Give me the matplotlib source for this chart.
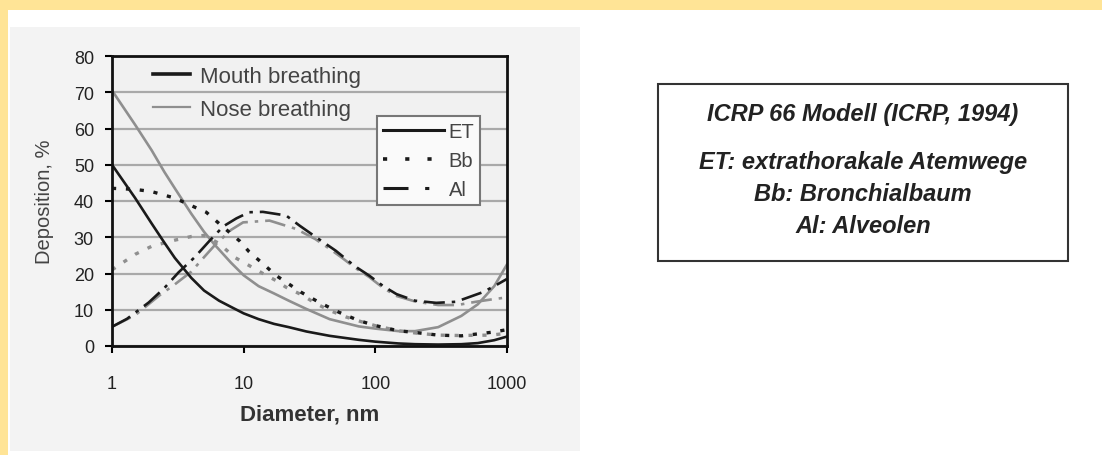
import matplotlib.pyplot as plt
from matplotlib.patches import Rectangle
from matplotlib.lines import Line2D
from matplotlib.ticker import NullLocator

plt.rcParams['font.family'] = ['Liberation Sans', 'DejaVu Sans']
plt.rcParams['lines.scale_dashes'] = False

# Werte (Durchmesser in nm, Deposition in %)
et_mouth_d = [1, 1.5, 2, 2.5, 3, 4, 5, 6.5, 8, 10, 13, 17, 22, 30, 45, 75, 100, 150, 200, 300, 450, 600, 800, 1000]
et_mouth = [50, 40.8, 33.8, 28.5, 24.3, 18.8, 15.3, 12.5, 10.8, 9.0, 7.4, 6.1, 5.2, 4.0, 2.8, 1.7, 1.2, 0.7, 0.5, 0.4, 0.5, 0.8, 1.6, 2.6]

et_nose_d = [1, 1.5, 2, 2.5, 3, 4, 5, 6, 8, 10, 13, 17, 22, 30, 45, 75, 100, 150, 200, 300, 450, 600, 800, 1000]
et_nose = [70.5, 61, 54, 48, 43.5, 36.5, 31.5, 28, 23, 19.5, 16.5, 14.5, 12.5, 10.2, 7.4, 5.4, 4.8, 4.1, 4.1, 5.2, 8.3, 11.5, 16.5, 22.5]

bb_mouth_d = [1, 1.5, 2, 3, 4.25, 5.2, 6.5, 8, 9.3, 11, 13.6, 17.7, 27.4, 37.6, 53, 75, 101, 150, 215, 300, 450, 770, 1000]
bb_mouth = [43.5, 43.2, 42.6, 40.8, 38.3, 36.9, 33.8, 31, 29, 26, 23.1, 19.4, 14.8, 12, 9.3, 7, 5.6, 4.2, 3.6, 3.0, 2.8, 3.8, 4.5]

bb_nose_d = [1, 1.5, 2, 3, 4, 5, 6.5, 8.5, 11, 14, 17.7, 21, 28, 35, 45, 60, 80, 100, 150, 200, 300, 430, 750, 1000]
bb_nose = [21, 25.3, 27.5, 29.2, 30.2, 30.5, 28.3, 24.5, 22.2, 20, 18, 16.2, 14, 11.8, 9.8, 8, 6.6, 5.6, 4.2, 3.6, 3.0, 2.9, 3.0, 3.5]

al_mouth_d = [1, 1.3, 1.9, 2.5, 3.2, 4.25, 5.5, 7, 8.8, 11, 14, 21, 26.6, 35.5, 50, 70, 90, 115, 145, 200, 290, 410, 650, 800, 1000]
al_mouth = [5.3, 7.5, 12, 16, 20.3, 24.5, 29, 33, 35.2, 36.9, 37, 36, 33.2, 30, 26.3, 22, 19.4, 16.5, 14.3, 12.5, 11.9, 12.2, 14.8, 16.5, 18.5]

al_nose_d = [1, 1.5, 2.3, 3, 4, 5, 6, 8, 9.9, 15.7, 25, 35, 45, 56, 70, 90, 115, 145, 200, 300, 420, 580, 780, 1000]
al_nose = [5.3, 8.5, 14, 17, 20.5, 24.5, 27.7, 32, 34.1, 34.6, 32.3, 29.5, 26.8, 24.3, 21.6, 19, 16, 13.8, 12.3, 11.3, 11.3, 12.2, 12.9, 13.4]

x_ticks = [1, 10, 100, 1000]
x_tick_labels = ['1', '10', '100', '1000']
y_ticks = [0, 10, 20, 30, 40, 50, 60, 70, 80]

box_lines = ['ICRP 66 Modell (ICRP, 1994)', 'ET: extrathorakale Atemwege', 'Bb: Bronchialbaum', 'Al: Alveolen']

W, H = 1102, 456
fig = plt.figure(figsize=(W / 100, H / 100), dpi=100)
fig.patch.set_facecolor('white')

# Hintergrund: grauer Bildbereich und gelber Rand
fig.patches.append(Rectangle((10 / W, 1 - 452 / H), 570 / W, 424 / H, transform=fig.transFigure,
                             facecolor='#f3f3f3', edgecolor='none', zorder=-2))
fig.patches.append(Rectangle((0, 1 - 11 / H), 1, 11 / H, transform=fig.transFigure,
                             facecolor='#ffe496', edgecolor='none', zorder=-2))
fig.patches.append(Rectangle((0, 0), 8 / W, 1, transform=fig.transFigure,
                             facecolor='#ffe496', edgecolor='none', zorder=-2))

ax = fig.add_axes([112 / W, 1 - 347 / H, 395 / W, 290 / H])
ax.set_zorder(2)
ax.set_facecolor('#f1f1f1')

black = '#1a1a1a'
gray = '#8f8f8f'
dot = (0, (3, 7))
dashdot = (0, (15, 5, 2.5, 5))

ax.plot(et_nose_d, et_nose, color=gray, lw=1.9)
ax.plot(bb_nose_d, bb_nose, color=gray, lw=2.4, ls=dot)
ax.plot(al_nose_d, al_nose, color=gray, lw=1.9, ls=dashdot)
ax.plot(et_mouth_d, et_mouth, color=black, lw=1.9)
ax.plot(bb_mouth_d, bb_mouth, color=black, lw=2.4, ls=dot)
ax.plot(al_mouth_d, al_mouth, color=black, lw=1.9, ls=dashdot)

ax.set_xscale('log')
ax.set_xlim(1, 1000)
ax.set_ylim(0, 80)
ax.set_xticks(x_ticks)
ax.set_xticklabels(x_tick_labels)
ax.xaxis.set_minor_locator(NullLocator())
ax.set_yticks(y_ticks)

ax.set_axisbelow(True)
ax.yaxis.grid(True, color='#a9a9a9', lw=1.6)
ax.xaxis.grid(False)
for s in ax.spines.values():
    s.set_linewidth(2)
    s.set_color('#111111')

ax.tick_params(axis='x', direction='out', length=5, width=1.5, pad=16, labelsize=13, labelcolor='#222222')
ax.tick_params(axis='y', direction='out', length=5, width=1.5, pad=8, labelsize=13, labelcolor='#222222')

ax.set_xlabel('Diameter, nm', fontsize=16, fontweight='bold', color='#333333', labelpad=8)
ax.set_ylabel('Deposition, %', fontsize=14.5, color='#444444', labelpad=14)

# Legende Atmung (ohne Rahmen)
h1 = [Line2D([], [], color=black, lw=2.6), Line2D([], [], color=gray, lw=1.6)]
leg1 = ax.legend(h1, ['Mouth breathing', 'Nose breathing'], loc='upper left', bbox_to_anchor=(0.104, 0.966),
                 frameon=False, fontsize=16, handlelength=1.67, handletextpad=0.45, labelspacing=0.55,
                 borderpad=0, borderaxespad=0)
for t in leg1.get_texts():
    t.set_color('#444444')
ax.add_artist(leg1)

# Legende Regionen
h2 = [Line2D([], [], color=black, lw=2.2),
      Line2D([], [], color=black, lw=2.6, ls=(0, (3, 13))),
      Line2D([], [], color=black, lw=2.2, ls=(0, (18, 12, 3, 12)))]
leg2 = ax.legend(h2, ['ET', 'Bb', 'Al'], loc='upper left', bbox_to_anchor=(0.671, 0.793), fontsize=14.5,
                 handlelength=3.0, handletextpad=0.25, labelspacing=0.5, borderpad=0.3, borderaxespad=0,
                 fancybox=False, framealpha=1, edgecolor='#777777', facecolor='#fafafa')
leg2.get_frame().set_linewidth(1.5)
for t in leg2.get_texts():
    t.set_color('#444444')

# Textkasten rechts
fig.patches.append(Rectangle((658 / W, 1 - 262 / H), 410 / W, 177 / H, transform=fig.transFigure,
                             facecolor='white', edgecolor='#333333', lw=1.5, zorder=1))
box_y = [115, 162, 195, 227]
for txt, yy in zip(box_lines, box_y):
    fig.text(863 / W, 1 - yy / H, txt, ha='center', va='center', fontsize=17, fontweight='bold',
             fontstyle='italic', color='#222222')

plt.savefig('out.png', dpi=100)
